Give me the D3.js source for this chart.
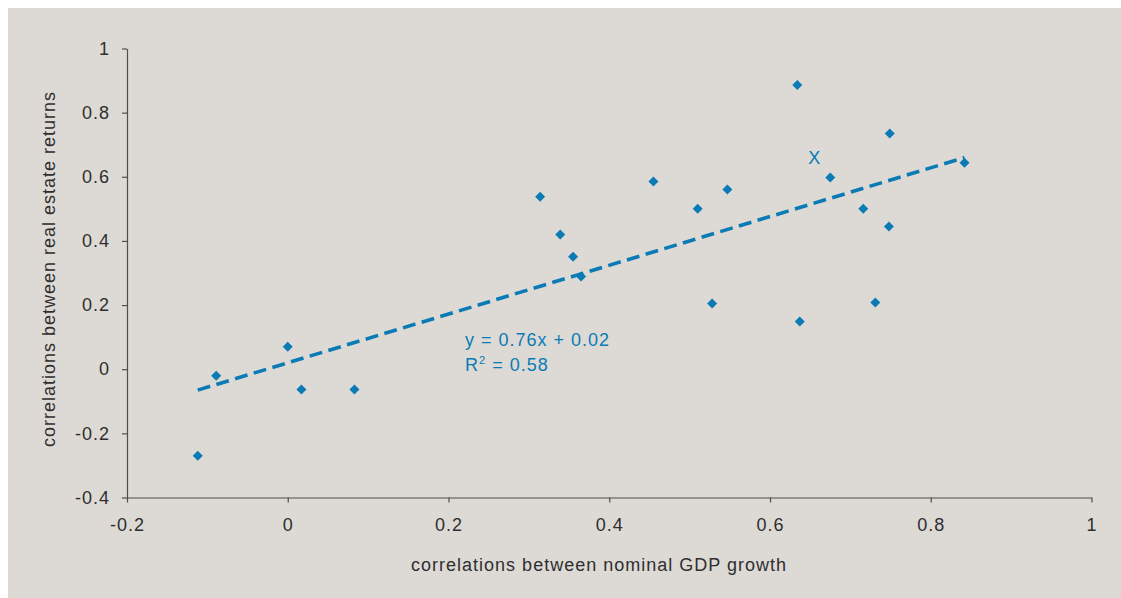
<!DOCTYPE html>
<html>
<head>
<meta charset="utf-8">
<script src="https://cdn.jsdelivr.net/npm/d3@7"></script>
<style>
  html, body { margin: 0; padding: 0; background: #ffffff; }
  svg { display: block; }
  text { font-family: "Liberation Sans", Arial, Helvetica, sans-serif; }
</style>
</head>
<body>
<svg id="chart" width="1121" height="598"></svg>
<script>
// Correlation pairs per country
const gdpCorr = [-0.112, -0.089, 0.000, 0.017, 0.083, 0.314, 0.339, 0.355, 0.365, 0.455, 0.510,
                 0.528, 0.547, 0.634, 0.637, 0.675, 0.716, 0.731, 0.749, 0.748, 0.842];
const reCorr  = [-0.270, -0.020, 0.070, -0.063, -0.063, 0.538, 0.420, 0.351, 0.289, 0.585, 0.500,
                 0.205, 0.560, 0.886, 0.149, 0.598, 0.500, 0.208, 0.735, 0.445, 0.644];

// Linear fit reported on the chart
const fitSlope = 0.76;
const fitIntercept = 0.02;
const fitR2 = 0.58;

const xTicks = [-0.2, 0, 0.2, 0.4, 0.6, 0.8, 1];
const yTicks = [-0.4, -0.2, 0, 0.2, 0.4, 0.6, 0.8, 1];

const xTitle = "correlations between nominal GDP growth";
const yTitle = "correlations between real estate returns";
const markerLabel = "X";
const markerAt = [0.655, 0.660];

const blue = "#0a7bb4";
const ink = "#2e2e2e";
const axisInk = "#4d4d4d";

const svg = d3.select("#chart");

svg.append("rect")
  .attr("x", 8).attr("y", 8)
  .attr("width", 1121 - 8).attr("height", 598 - 8)
  .attr("fill", "#dddad6");

const x = d3.scaleLinear().domain([-0.2, 1]).range([127, 1091.5]);
const y = d3.scaleLinear().domain([-0.4, 1]).range([497.5, 48.5]);

const fmt = d => String(+d.toFixed(1));

const xAxis = svg.append("g")
  .attr("transform", `translate(0,${y(-0.4)})`)
  .call(d3.axisBottom(x).tickValues(xTicks).tickFormat(fmt).tickSize(5).tickPadding(16).tickSizeOuter(0));

const yAxis = svg.append("g")
  .attr("transform", `translate(${x(-0.2)},0)`)
  .call(d3.axisLeft(y).tickValues(yTicks).tickFormat(fmt).tickSize(5).tickPadding(12).tickSizeOuter(0));

[xAxis, yAxis].forEach(g => {
  g.select(".domain").attr("stroke", axisInk).attr("stroke-width", 1.2);
  g.selectAll(".tick line").attr("stroke", axisInk).attr("stroke-width", 1.2);
  g.selectAll(".tick text")
    .attr("fill", ink)
    .style("font-size", "18px")
    .style("letter-spacing", "1px")
    .style("font-family", '"Liberation Sans", Arial, sans-serif');
});

// Axis titles
svg.append("text")
  .attr("x", 599).attr("y", 571)
  .attr("text-anchor", "middle")
  .attr("fill", ink)
  .style("font-size", "18px")
  .style("letter-spacing", "1px")
  .text(xTitle);

svg.append("text")
  .attr("transform", "translate(54.5,269) rotate(-90)")
  .attr("text-anchor", "middle")
  .attr("fill", ink)
  .style("font-size", "18px")
  .style("letter-spacing", "1px")
  .text(yTitle);

// Trend line across the data range
const xMin = d3.min(gdpCorr), xMax = d3.max(gdpCorr);
const fitLine = [xMin, xMax].map(v => [v, fitSlope * v + fitIntercept]);
svg.append("path")
  .datum(fitLine)
  .attr("d", d3.line().x(d => x(d[0])).y(d => y(d[1])))
  .attr("fill", "none")
  .attr("stroke", blue)
  .attr("stroke-width", 3.6)
  .attr("stroke-dasharray", "13,6.5");

// Data points as diamonds
const pts = gdpCorr.map((v, i) => [v, reCorr[i]]);
svg.append("g")
  .selectAll("path")
  .data(pts)
  .join("path")
  .attr("d", d3.symbol(d3.symbolSquare, 50))
  .attr("transform", d => `translate(${x(d[0])},${y(d[1])}) rotate(45)`)
  .attr("fill", blue);

// Equation and R²
const eq = svg.append("text")
  .attr("fill", blue)
  .style("font-size", "18px")
  .style("letter-spacing", "1px");
eq.append("tspan").attr("x", 465).attr("y", 346)
  .text(`y = ${fitSlope.toFixed(2)}x + ${fitIntercept.toFixed(2)}`);
const r2 = eq.append("tspan").attr("x", 465).attr("y", 370.5);
r2.text("R");
r2.append("tspan").attr("dy", -7).style("font-size", "11px").text("2");
r2.append("tspan").attr("dy", 7).text(` = ${fitR2.toFixed(2)}`);

// Point marker label
svg.append("text")
  .attr("x", x(markerAt[0])).attr("y", y(markerAt[1]) + 6.5)
  .attr("text-anchor", "middle")
  .attr("fill", blue)
  .style("font-size", "18px")
  .text(markerLabel);
</script>
</body>
</html>
